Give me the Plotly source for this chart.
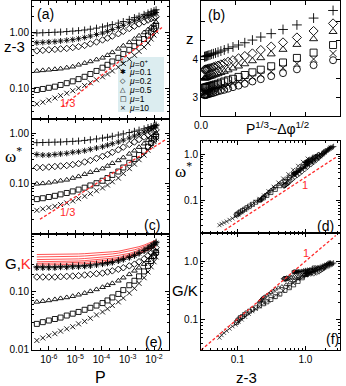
import plotly.graph_objects as go

W, H = 346, 386
FONT = "Liberation Sans"
RED = "#ff2a2a"

# pressure P (shared by panels a, c, e)
P = [3.5e-7, 5.9e-7, 1.0e-6, 1.7e-6, 2.8e-6, 4.8e-6, 8.1e-6, 1.35e-5, 2.3e-5, 3.8e-5,
     6.5e-5, 1.1e-4, 1.7e-4, 2.6e-4, 4.4e-4, 6.8e-4, 1.15e-3, 1.8e-3, 2.7e-3, 4.2e-3,
     5.9e-3, 7.8e-3, 1.0e-2, 1.2e-2]

MU_LABELS = ["0<sup>+</sup>", "0.1", "0.2", "0.5", "1", "10"]
SYMBOLS = ["cross-thin-open", "asterisk-open", "diamond-open", "triangle-up-open", "square-open", "x-thin-open"]
LEGEND_GLYPHS = ["+", "✱", "◇", "△", "□", "×"]

# (a) z-3
ZM3_0 = [1.00, 1.01, 1.02, 1.03, 1.04, 1.06, 1.08, 1.10, 1.13, 1.17, 1.22, 1.28, 1.34, 1.41, 1.50, 1.60, 1.75, 1.88, 2.00, 2.15, 2.28, 2.40, 2.50, 2.60]
ZM3_01 = [0.67, 0.68, 0.69, 0.70, 0.72, 0.74, 0.76, 0.79, 0.83, 0.88, 0.94, 1.00, 1.07, 1.15, 1.26, 1.37, 1.52, 1.65, 1.78, 1.93, 2.05, 2.15, 2.24, 2.32]
ZM3_02 = [0.48, 0.49, 0.50, 0.51, 0.52, 0.53, 0.55, 0.57, 0.60, 0.64, 0.69, 0.75, 0.81, 0.88, 0.97, 1.07, 1.20, 1.32, 1.45, 1.58, 1.70, 1.80, 1.88, 1.95]
ZM3_05 = [0.21, 0.215, 0.22, 0.225, 0.23, 0.24, 0.25, 0.27, 0.29, 0.31, 0.335, 0.36, 0.40, 0.45, 0.52, 0.59, 0.68, 0.78, 0.89, 1.02, 1.15, 1.28, 1.42, 1.55]
ZM3_1 = [0.096, 0.10, 0.105, 0.11, 0.118, 0.127, 0.137, 0.15, 0.165, 0.185, 0.21, 0.24, 0.27, 0.31, 0.36, 0.42, 0.50, 0.58, 0.67, 0.78, 0.90, 1.03, 1.18, 1.35]
ZM3_10 = [0.054, 0.058, 0.063, 0.069, 0.076, 0.084, 0.093, 0.103, 0.115, 0.129, 0.146, 0.165, 0.185, 0.21, 0.245, 0.285, 0.34, 0.40, 0.47, 0.56, 0.66, 0.78, 0.92, 1.08]

# (c) omega*
W_0 = [0.65, 0.655, 0.66, 0.665, 0.67, 0.68, 0.69, 0.70, 0.72, 0.74, 0.77, 0.80, 0.83, 0.87, 0.92, 0.97, 1.03, 1.09, 1.15, 1.22, 1.29, 1.35, 1.40, 1.45]
W_01 = [0.38, 0.37, 0.37, 0.38, 0.39, 0.40, 0.42, 0.43, 0.45, 0.48, 0.51, 0.54, 0.58, 0.62, 0.67, 0.73, 0.80, 0.88, 0.96, 1.05, 1.15, 1.24, 1.32, 1.40]
W_02 = [0.21, 0.21, 0.215, 0.22, 0.225, 0.23, 0.24, 0.25, 0.27, 0.29, 0.32, 0.35, 0.38, 0.42, 0.47, 0.53, 0.60, 0.67, 0.75, 0.84, 0.93, 1.01, 1.09, 1.16]
W_05 = [0.10, 0.102, 0.105, 0.11, 0.115, 0.12, 0.13, 0.14, 0.155, 0.17, 0.185, 0.20, 0.225, 0.255, 0.29, 0.33, 0.39, 0.45, 0.53, 0.62, 0.72, 0.82, 0.91, 1.00]
W_1 = [0.050, 0.052, 0.055, 0.058, 0.062, 0.066, 0.071, 0.077, 0.084, 0.093, 0.103, 0.115, 0.13, 0.15, 0.175, 0.21, 0.26, 0.31, 0.37, 0.45, 0.54, 0.64, 0.75, 0.86]
W_10 = [0.030, 0.032, 0.034, 0.036, 0.039, 0.042, 0.046, 0.051, 0.057, 0.064, 0.073, 0.083, 0.095, 0.11, 0.13, 0.16, 0.20, 0.245, 0.30, 0.37, 0.46, 0.56, 0.68, 0.80]

# (e) shear modulus G
G_0 = [0.27, 0.27, 0.27, 0.27, 0.275, 0.275, 0.28, 0.28, 0.285, 0.29, 0.30, 0.31, 0.32, 0.33, 0.35, 0.37, 0.40, 0.43, 0.47, 0.52, 0.57, 0.62, 0.67, 0.72]
G_01 = [0.26, 0.26, 0.26, 0.26, 0.265, 0.265, 0.27, 0.27, 0.275, 0.28, 0.29, 0.30, 0.31, 0.32, 0.34, 0.36, 0.39, 0.42, 0.46, 0.51, 0.56, 0.61, 0.66, 0.70]
G_02 = [0.18, 0.18, 0.18, 0.18, 0.182, 0.185, 0.187, 0.19, 0.195, 0.20, 0.205, 0.21, 0.22, 0.23, 0.245, 0.26, 0.28, 0.30, 0.33, 0.37, 0.42, 0.47, 0.52, 0.58]
G_05 = [0.067, 0.069, 0.071, 0.074, 0.077, 0.08, 0.084, 0.089, 0.095, 0.102, 0.11, 0.12, 0.13, 0.14, 0.155, 0.175, 0.20, 0.23, 0.26, 0.30, 0.35, 0.40, 0.45, 0.50]
G_1 = [0.028, 0.030, 0.032, 0.034, 0.036, 0.039, 0.042, 0.045, 0.049, 0.053, 0.058, 0.064, 0.071, 0.08, 0.092, 0.107, 0.13, 0.155, 0.185, 0.225, 0.28, 0.34, 0.41, 0.48]
G_10 = [0.0145, 0.016, 0.0175, 0.019, 0.021, 0.023, 0.025, 0.028, 0.031, 0.035, 0.040, 0.045, 0.051, 0.058, 0.067, 0.078, 0.095, 0.115, 0.14, 0.175, 0.22, 0.27, 0.33, 0.40]

# (e) bulk modulus K (red lines)
K_0 = [0.44, 0.44, 0.44, 0.44, 0.445, 0.445, 0.45, 0.45, 0.455, 0.46, 0.465, 0.47, 0.48, 0.49, 0.50, 0.52, 0.54, 0.57, 0.60, 0.64, 0.68, 0.71, 0.75, 0.78]
K_01 = [0.40, 0.40, 0.40, 0.40, 0.405, 0.405, 0.41, 0.41, 0.415, 0.42, 0.425, 0.43, 0.44, 0.45, 0.465, 0.48, 0.50, 0.53, 0.56, 0.60, 0.64, 0.68, 0.71, 0.74]
K_02 = [0.36, 0.36, 0.36, 0.36, 0.365, 0.365, 0.37, 0.37, 0.375, 0.38, 0.385, 0.39, 0.40, 0.41, 0.425, 0.44, 0.46, 0.49, 0.52, 0.56, 0.60, 0.64, 0.67, 0.70]
K_05 = [0.33, 0.33, 0.33, 0.33, 0.335, 0.335, 0.34, 0.34, 0.345, 0.35, 0.355, 0.36, 0.37, 0.38, 0.39, 0.41, 0.43, 0.46, 0.49, 0.53, 0.57, 0.60, 0.63, 0.66]
K_1 = [0.31, 0.31, 0.31, 0.31, 0.315, 0.315, 0.32, 0.32, 0.325, 0.33, 0.335, 0.34, 0.35, 0.36, 0.37, 0.39, 0.41, 0.44, 0.47, 0.50, 0.54, 0.57, 0.60, 0.63]
K_10 = [0.29, 0.29, 0.29, 0.29, 0.295, 0.295, 0.30, 0.30, 0.305, 0.31, 0.315, 0.32, 0.33, 0.34, 0.35, 0.37, 0.39, 0.42, 0.45, 0.48, 0.52, 0.55, 0.58, 0.60]

# (b) z vs P^(1/3)
PCUBE = [0.0051, 0.0059, 0.0070, 0.0081, 0.0095, 0.0112, 0.0131, 0.0153, 0.0179, 0.0209, 0.0245, 0.0286,
         0.0335, 0.039, 0.046, 0.054, 0.063, 0.074, 0.086, 0.101, 0.118, 0.138, 0.162, 0.19]
ZB_SYMBOLS = ["cross-thin-open", "diamond-open", "triangle-up-open", "square-open", "x-thin-open", "circle-open"]
ZB_A = [4.06, 4.07, 4.07, 4.08, 4.09, 4.10, 4.11, 4.13, 4.14, 4.16, 4.18, 4.21, 4.24, 4.28, 4.32, 4.37, 4.43, 4.50, 4.58, 4.67, 4.78, 4.90, 5.08, 5.28]
ZB_B = [3.72, 3.72, 3.73, 3.73, 3.74, 3.75, 3.76, 3.77, 3.79, 3.81, 3.83, 3.86, 3.89, 3.93, 3.97, 4.02, 4.08, 4.15, 4.24, 4.33, 4.44, 4.57, 4.74, 4.94]
ZB_C = [3.49, 3.50, 3.50, 3.51, 3.52, 3.53, 3.54, 3.55, 3.57, 3.59, 3.61, 3.64, 3.67, 3.71, 3.76, 3.81, 3.87, 3.95, 4.03, 4.13, 4.25, 4.38, 4.53, 4.72]
ZB_D = [3.24, 3.25, 3.25, 3.26, 3.27, 3.28, 3.29, 3.30, 3.32, 3.33, 3.35, 3.38, 3.41, 3.44, 3.48, 3.53, 3.58, 3.65, 3.72, 3.81, 3.91, 4.03, 4.17, 4.37]
ZB_E = [3.12, 3.13, 3.13, 3.14, 3.15, 3.16, 3.17, 3.18, 3.20, 3.21, 3.23, 3.26, 3.28, 3.32, 3.36, 3.40, 3.46, 3.52, 3.59, 3.67, 3.77, 3.88, 4.00, 4.15]
ZB_F = [3.05, 3.05, 3.06, 3.06, 3.07, 3.08, 3.09, 3.10, 3.11, 3.13, 3.15, 3.17, 3.19, 3.22, 3.26, 3.30, 3.35, 3.41, 3.47, 3.55, 3.63, 3.73, 3.84, 3.97]

# red dashed guide lines (endpoints)
GUIDE_A_X, GUIDE_A_Y = [3.1e-6, 2.0e-2], [0.048, 1.25]
GUIDE_C_X, GUIDE_C_Y = [4.6e-7, 2.7e-2], [0.020, 0.74]
GUIDE_D_X, GUIDE_D_Y = [0.064, 2.9], [0.0234, 0.875]
GUIDE_F_X, GUIDE_F_Y = [0.029, 2.8], [0.031, 2.7]

ZM3 = [ZM3_0, ZM3_01, ZM3_02, ZM3_05, ZM3_1, ZM3_10]
WST = [W_0, W_01, W_02, W_05, W_1, W_10]
GS = [G_0, G_01, G_02, G_05, G_1, G_10]
KS = [K_0, K_01, K_02, K_05, K_1, K_10]
ZB = [ZB_A, ZB_B, ZB_C, ZB_D, ZB_E, ZB_F]


def px(x):
    return x / W


def py(y):
    return 1 - y / H


def mk(sym, size=5, lw=0.9):
    return dict(symbol=sym, size=size, color="black", line=dict(color="black", width=lw))


fig = go.Figure()

for i in range(6):
    fig.add_trace(go.Scatter(x=P, y=ZM3[i], mode="markers", marker=mk(SYMBOLS[i]), xaxis="x", yaxis="y"))
    fig.add_trace(go.Scatter(x=P, y=WST[i], mode="markers", marker=mk(SYMBOLS[i]), xaxis="x2", yaxis="y2"))
    fig.add_trace(go.Scatter(x=P, y=KS[i], mode="lines", line=dict(color=RED, width=0.8), xaxis="x3", yaxis="y3"))
for i in range(6):
    fig.add_trace(go.Scatter(x=P, y=GS[i], mode="markers", marker=mk(SYMBOLS[i]), xaxis="x3", yaxis="y3"))
    fig.add_trace(go.Scatter(x=PCUBE, y=ZB[i], mode="markers", marker=mk(ZB_SYMBOLS[i], 7, 0.9), xaxis="x4", yaxis="y4"))
    fig.add_trace(go.Scatter(x=ZM3[i], y=WST[i], mode="markers", marker=mk(SYMBOLS[i], 4, 0.7), xaxis="x5", yaxis="y5"))
    fig.add_trace(go.Scatter(x=ZM3[i], y=[g / k for g, k in zip(GS[i], KS[i])], mode="markers",
                             marker=mk(SYMBOLS[i], 4, 0.7), xaxis="x6", yaxis="y6"))

dash = dict(color=RED, width=1.3, dash="3px,2px")
for gx, gy, xa, ya in [(GUIDE_A_X, GUIDE_A_Y, "x", "y"), (GUIDE_C_X, GUIDE_C_Y, "x2", "y2"),
                       (GUIDE_D_X, GUIDE_D_Y, "x5", "y5"), (GUIDE_F_X, GUIDE_F_Y, "x6", "y6")]:
    fig.add_trace(go.Scatter(x=gx, y=gy, mode="lines", line=dash, xaxis=xa, yaxis=ya))


def axis(dom, anchor, rng, typ="log", labels=True, **kw):
    d = dict(domain=dom, anchor=anchor, range=rng, type=typ, showline=True, mirror="allticks",
             linecolor="black", linewidth=1, ticks="inside", ticklen=4, tickcolor="black",
             showgrid=False, zeroline=False, showticklabels=labels, automargin=False,
             tickfont=dict(family=FONT, size=10, color="black"))
    if typ == "log":
        d["minor"] = dict(ticks="inside", ticklen=2, tickcolor="black", showgrid=False)
    d.update(kw)
    return d


LX = [px(32), px(169)]
RX = [px(201), px(340)]
P_TICKS = dict(tickvals=[1e-6, 1e-5, 1e-4, 1e-3, 1e-2],
               ticktext=["10<sup>-6</sup>", "10<sup>-5</sup>", "10<sup>-4</sup>", "10<sup>-3</sup>", "10<sup>-2</sup>"])

fig.update_layout(
    template="none",
    width=W, height=H, margin=dict(l=0, r=0, t=0, b=0, autoexpand=False), showlegend=False,
    plot_bgcolor="white", paper_bgcolor="white",
    xaxis=axis(LX, "y", [-6.64, -1.43], labels=False, **P_TICKS),
    yaxis=axis([py(119), py(1)], "x", [-1.536, 0.571], dtick=1, tickformat=".2f"),
    xaxis2=axis(LX, "y2", [-6.64, -1.43], labels=False, **P_TICKS),
    yaxis2=axis([py(234), py(119)], "x2", [-1.99, 0.28], dtick=1, tickformat=".2f"),
    xaxis3=axis(LX, "y3", [-6.64, -1.43], **P_TICKS),
    yaxis3=axis([py(350), py(234)], "x3", [-2.003, -0.003], dtick=1, tickformat=".2f"),
    xaxis4=axis(RX, "y4", [0, 0.2], typ="linear", tickvals=[0, 0.05, 0.1, 0.15, 0.2],
                ticktext=["0.0", "", "", "", "0.2"]),
    yaxis4=axis([py(116), py(1)], "x4", [2.5, 5.53], typ="linear", tickvals=[3, 3.5, 4, 4.5, 5],
                ticktext=["3", "", "4", "", ""]),
    xaxis5=axis(RX, "y5", [-1.54, 0.51], labels=False, dtick=1, tickformat=".1f"),
    yaxis5=axis([py(233), py(141)], "x5", [-1.69, 0.28], dtick=1, tickformat=".1f"),
    xaxis6=axis(RX, "y6", [-1.54, 0.51], dtick=1, tickformat=".1f"),
    yaxis6=axis([py(350), py(233)], "x6", [-1.51, 0.475], dtick=1, tickformat=".1f"),
)


def label(x, y, text, size=13, color="black", family=FONT, xanchor="center"):
    fig.add_annotation(x=px(x), y=py(y), xref="paper", yref="paper", text=text, showarrow=False,
                       xanchor=xanchor, yanchor="middle", borderpad=0,
                       font=dict(family=family, size=size, color=color))


# legend box in panel (a)
fig.add_shape(type="rect", xref="paper", yref="paper", x0=px(118), x1=px(164), y0=py(112), y1=py(57),
              fillcolor="#dcedf0", line=dict(width=0), layer="below")
for i, (g, lab) in enumerate(zip(LEGEND_GLYPHS, MU_LABELS)):
    yy = 63 + i * 8.9
    label(123, yy, g, 7, family="DejaVu Sans")
    label(128, yy, "<i>μ</i>=" + lab, 8.5, xanchor="left")

label(46, 14, "(a)", 14)
label(216, 15, "(b)", 14)
label(152, 225, "(c)", 14)
label(325, 226, "(d)", 14)
label(153, 342, "(e)", 14)
label(332, 339, "(f)", 14)

label(14, 47, "z-3", 15)
label(13, 155, "ω<sup>*</sup>", 17, family="Liberation Serif")
label(18, 263, "G,<span style='color:#ff2a2a'>K</span>", 15)
label(100, 377, "P", 16)
label(190, 38, "z", 15)
label(277, 128, "P<sup>1/3</sup>~Δφ<sup>1/2</sup>", 14)
label(184, 170, "ω<sup>*</sup>", 17, family="Liberation Serif")
label(185, 290, "G/K", 15)
label(247, 377, "z-3", 15)

label(67, 103, "1/3", 11, RED)
label(67, 212, "1/3", 11, RED)
label(305, 185, "1", 11, RED)
label(306, 253, "1", 11, RED)

fig.write_html("out.html", config={"displayModeBar": False},
               post_script="document.body.style.margin='0';document.body.style.overflow='hidden';")
